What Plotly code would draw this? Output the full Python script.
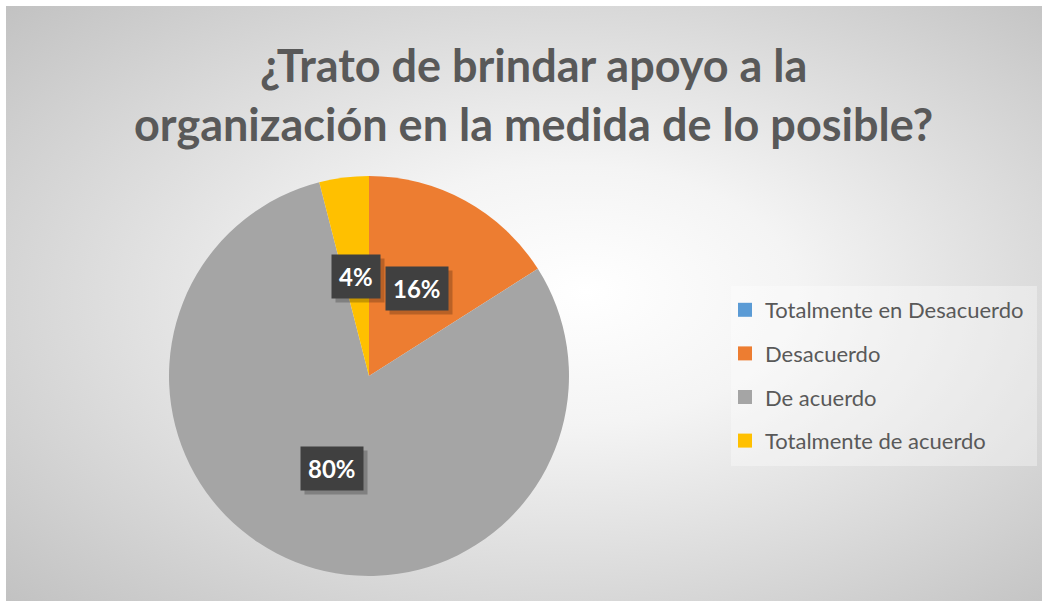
import math
import base64
import plotly.graph_objects as go

# ---- data ----
labels = ["Totalmente en Desacuerdo", "Desacuerdo", "De acuerdo", "Totalmente de acuerdo"]
values = [0, 16, 80, 4]
colors = ["#5B9BD5", "#ED7D31", "#A5A5A5", "#FFC000"]
title_text = "¿Trato de brindar apoyo a la<br>organización en la medida de lo posible?"

W, H = 1042, 601
FONT = "Lato"

# pie geometry (pixels)
cx_px, cy_px, r_px = 369, 376, 200

fig = go.Figure()

fig.add_trace(go.Pie(
    labels=labels, values=values,
    marker=dict(colors=colors, line=dict(width=0)),
    sort=False, direction="clockwise", rotation=0,
    textinfo="none", hoverinfo="label+percent",
    showlegend=False,
    domain=dict(x=[(cx_px - r_px) / W, (cx_px + r_px) / W],
                y=[1 - (cy_px + r_px) / H, 1 - (cy_px - r_px) / H]),
))

# legend entries via dummy traces so entries can be spaced like the original
for i, (lab, col) in enumerate(zip(labels, colors)):
    fig.add_trace(go.Scatter(
        x=[None], y=[None], mode="markers", name=lab,
        marker=dict(symbol="square", size=14, color=col),
        legendgroup=f"g{i}", showlegend=True, hoverinfo="skip",
    ))

# data labels (boxes) placed at half radius along each slice's mid-angle
total = sum(values)
cum = 0
for v in values:
    start = cum
    cum += v
    if v == 0:
        continue
    mid = (start + v / 2) / total * 2 * math.pi
    lx = (cx_px + 0.5 * r_px * math.sin(mid)) / W
    ly = 1 - (cy_px - 0.5 * r_px * math.cos(mid)) / H
    txt = f"<b>{round(v / total * 100)}%</b>"
    # shadow
    fig.add_annotation(x=lx, y=ly, xref="paper", yref="paper", text=txt,
                       xanchor="center", yanchor="middle",
                       showarrow=False, xshift=4, yshift=-4,
                       font=dict(family=FONT, size=24, color="rgba(0,0,0,0)"),
                       bgcolor="rgba(0,0,0,0.22)", borderpad=7)
    fig.add_annotation(x=lx, y=ly, xref="paper", yref="paper", text=txt,
                       xanchor="center", yanchor="middle",
                       showarrow=False,
                       font=dict(family=FONT, size=24, color="white"),
                       bgcolor="#404040", borderpad=7)

# title
fig.add_annotation(x=533 / W, y=1 - 95 / H, xref="paper", yref="paper",
                   xanchor="center", yanchor="middle", showarrow=False,
                   text=f"<b>{title_text}</b>",
                   font=dict(family=FONT, size=45, color="#595959"))

# radial gradient background
svg = f'''<svg xmlns="http://www.w3.org/2000/svg" width="{W}" height="{H}" viewBox="0 0 {W} {H}" preserveAspectRatio="none">
<defs><radialGradient id="g" cx="0.52" cy="0.5" r="0.72" fx="0.56" fy="0.48">
<stop offset="0" stop-color="#ffffff"/><stop offset="0.3" stop-color="#f4f4f4"/><stop offset="1" stop-color="#c2c2c2"/>
</radialGradient></defs>
<rect x="0" y="0" width="{W}" height="{H}" fill="url(#g)"/></svg>'''
src = "data:image/svg+xml;base64," + base64.b64encode(svg.encode()).decode()
fig.add_layout_image(source=src, xref="paper", yref="paper",
                     x=6 / W, y=1 - 6 / H, sizex=(W - 6) / W, sizey=(H - 6) / H,
                     xanchor="left", yanchor="top", sizing="stretch", layer="below")

# legend box
fig.add_shape(type="rect", xref="paper", yref="paper", layer="below",
              x0=731 / W, x1=1037 / W, y0=1 - 466 / H, y1=1 - 286 / H,
              line=dict(width=0), fillcolor="rgba(255,255,255,0.35)")

fig.update_layout(
    width=W, height=H,
    margin=dict(l=0, r=0, t=0, b=0),
    paper_bgcolor="white", plot_bgcolor="rgba(0,0,0,0)",
    xaxis=dict(visible=False), yaxis=dict(visible=False),
    legend=dict(x=725 / W, y=1 - 289 / H, xanchor="left", yanchor="top",
                bgcolor="rgba(0,0,0,0)", tracegroupgap=12,
                font=dict(family=FONT, size=22, color="#595959"),
                itemwidth=30),
)

fig.write_html("out.html", config={"displayModeBar": False},
               post_script="document.body.style.margin='0';")
